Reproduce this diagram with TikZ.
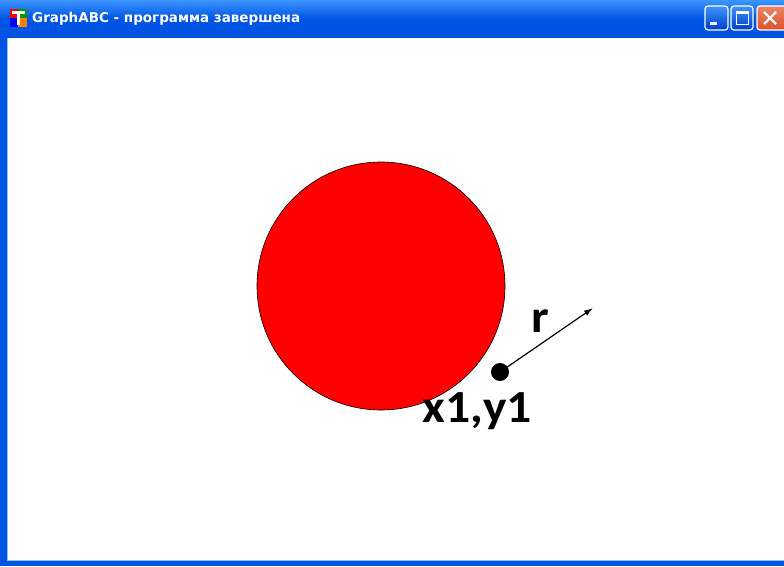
\documentclass[tikz,border=0pt]{standalone}
\usepackage{fontspec}
\setmainfont{Carlito}
\newfontfamily\titlefont{DejaVu Sans}
\usetikzlibrary{positioning,arrows.meta}
\tikzset{>=latex}
\usepackage{xcolor}
\definecolor{xpblue}{RGB}{0,84,227}
\definecolor{xplight}{RGB}{61,149,255}
\definecolor{xpdark}{RGB}{0,61,200}
\definecolor{xpred}{RGB}{226,80,40}
\definecolor{disc}{RGB}{255,0,0}
\tikzstyle{titlebar}=[top color=xplight,bottom color=xpblue,middle color=xpblue]
\tikzstyle{btn}=[draw=white,line width=1.2pt,rounded corners=3pt,top color=xplight,bottom color=xpdark]
\tikzstyle{closebtn}=[draw=white,line width=1.2pt,rounded corners=3pt,top color=xpred!70!white,bottom color=xpred]
\tikzstyle{biglabel}=[font=\bfseries\fontsize{46}{50}\selectfont,inner sep=0pt,xscale=1.08]
\def\R{124}

\begin{document}
\begin{tikzpicture}[x=1pt,y=-1pt]
  \useasboundingbox (0,0) rectangle (784,566);
  
  % WINDOW
  \fill[xpblue] (0,0) rectangle (784,566);
  \fill[white] (7,37) rectangle (784,561);
  \draw[xplight!60!white,line width=1pt] (7.5,37) -- (7.5,560.5) -- (784,560.5);
  \shade[titlebar] (0,0) rectangle (784,37);
  
  % ICON
  \fill[red]         (10,9)  rectangle (18,18);
  \fill[green!60!black] (18,9)  rectangle (27,18);
  \fill[blue]        (10,18) rectangle (18,27);
  \fill[orange]      (18,18) rectangle (27,27);
  \fill[white]       (12,11) rectangle (25,14);
  \fill[white]       (17,14) rectangle (20,25);
  
  % TITLE
  \node[anchor=west,text=white,font=\titlefont\bfseries\fontsize{13.5}{15}\selectfont,inner sep=0pt]
    (title) at (32,19) {GraphABC - программа завершена};
  
  % BUTTONS
  \draw[btn] (705,6) rectangle (728,30);
  \fill[white] (710,22) rectangle (717,25);
  \draw[btn] (731,6) rectangle (753,30);
  \draw[white,line width=1pt] (736,11) rectangle (748,24);
  \fill[white] (736,11) rectangle (748,14);
  \draw[closebtn] (757,6) rectangle (790,30);
  \draw[white,line width=2.2pt] (764,12) -- (776,24) (776,12) -- (764,24);
  
  % DISC
  \coordinate (M) at (381,286);
  \draw[fill=disc,line width=0.6pt] (M) circle (\R);
  
  % POINT AND RADIUS
  \node[circle,fill=black,inner sep=0pt,minimum size=18pt] (P) at (500,372) {};
  \coordinate (T) at (593,308);
  \draw[-{Latex[length=9pt,width=6pt]},line width=1.2pt] (P.center) -- (T);
  \node[biglabel] (r) at (540,321) {r};
  \node[biglabel] (xy) at (477,411) {x1,y1};
  
\end{tikzpicture}
\end{document}
